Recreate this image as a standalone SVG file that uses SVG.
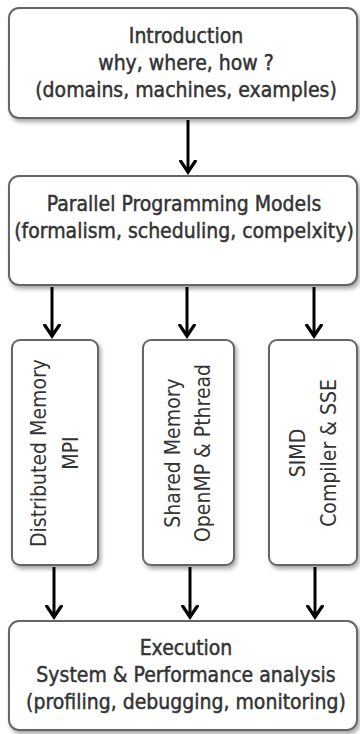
<svg xmlns="http://www.w3.org/2000/svg" width="360" height="734" viewBox="0 0 360 734">
<style>
.box{fill:#fff;stroke:#666;stroke-width:2}
.t{font-family:"DejaVu Sans Condensed","Liberation Sans",sans-serif;font-size:21px;fill:#333;stroke:#333;stroke-width:0.45;text-anchor:middle}
.v{font-family:"DejaVu Sans Condensed","Liberation Sans",sans-serif;font-size:21px;fill:#333;text-anchor:middle;dominant-baseline:central}
.c{stroke:#000;stroke-width:3;fill:none;marker-end:url(#ah)}
</style>
<defs>
<filter id="sh" x="-10%" y="-10%" width="120%" height="130%">
<feGaussianBlur in="SourceAlpha" stdDeviation="2"/>
<feOffset dx="2" dy="3"/>
<feComponentTransfer><feFuncA type="linear" slope="0.35"/></feComponentTransfer>
<feMerge><feMergeNode/><feMergeNode in="SourceGraphic"/></feMerge>
</filter>
<marker id="ah" markerWidth="6" markerHeight="6" refX="4" refY="3" orient="auto" markerUnits="strokeWidth">
<path d="M0,0.3 L4,3 L0,5.7" fill="none" stroke="#000" stroke-width="1.1"/>
</marker>
</defs>
<g id="connectors">
<line class="c" x1="188" y1="120" x2="188" y2="172"/>
<line class="c" x1="52" y1="287" x2="52" y2="336"/>
<line class="c" x1="187" y1="287" x2="187" y2="336"/>
<line class="c" x1="314" y1="287" x2="314" y2="336"/>
<line class="c" x1="54" y1="567" x2="54" y2="617"/>
<line class="c" x1="190" y1="567" x2="190" y2="617"/>
<line class="c" x1="315" y1="567" x2="315" y2="617"/>
</g>
<g id="intro">
<rect class="box" x="9" y="8" width="348" height="110" rx="10" filter="url(#sh)"/>
<text class="t" x="186" y="43">Introduction</text>
<text class="t" x="186" y="70">why, where, how ?</text>
<text class="t" x="186" y="97">(domains, machines, examples)</text>
</g>
<g id="models">
<rect class="box" x="9" y="176" width="348" height="109" rx="10" filter="url(#sh)"/>
<text class="t" x="184" y="211">Parallel Programming Models</text>
<text class="t" x="184" y="238">(formalism, scheduling, compelxity)</text>
</g>
<g id="distributed">
<rect class="box" x="12" y="340" width="86" height="225" rx="8" filter="url(#sh)"/>
<text class="v" transform="translate(39,453) rotate(-90)">Distributed Memory</text>
<text class="v" transform="translate(71,453) rotate(-90)">MPI</text>
</g>
<g id="shared">
<rect class="box" x="143" y="340" width="91" height="225" rx="8" filter="url(#sh)"/>
<text class="v" transform="translate(173,453) rotate(-90)">Shared Memory</text>
<text class="v" transform="translate(203,453) rotate(-90)">OpenMP &amp; Pthread</text>
</g>
<g id="simd">
<rect class="box" x="269" y="340" width="88" height="225" rx="8" filter="url(#sh)"/>
<text class="v" transform="translate(298,453) rotate(-90)">SIMD</text>
<text class="v" transform="translate(329,453) rotate(-90)">Compiler &amp; SSE</text>
</g>
<g id="execution">
<rect class="box" x="9" y="621" width="348" height="109" rx="10" filter="url(#sh)"/>
<text class="t" x="186" y="655">Execution</text>
<text class="t" x="186" y="682">System &amp; Performance analysis</text>
<text class="t" x="186" y="709">(profiling, debugging, monitoring)</text>
</g>
</svg>
